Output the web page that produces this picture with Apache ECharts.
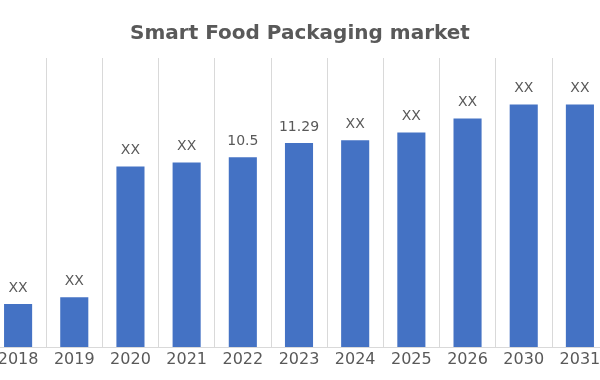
<!DOCTYPE html>
<html><head><meta charset="utf-8">
<script src="https://cdn.jsdelivr.net/npm/echarts@6/dist/echarts.min.js"></script>
<style>html,body{margin:0;padding:0;background:#fff}#c{width:600px;height:380px}</style>
</head><body><div id="c"></div>
<script>
const title = 'Smart Food Packaging market';
const years = ['2018','2019','2020','2021','2022','2023','2024','2025','2026','2030','2031'];
const values = [2.38, 2.76, 10.0, 10.22, 10.5, 11.29, 11.45, 11.88, 12.65, 13.43, 13.43];
const labels = ['XX','XX','XX','XX','10.5','11.29','XX','XX','XX','XX','XX'];

const chart = echarts.init(document.getElementById('c'), null, {renderer:'canvas'});
chart.setOption({
  animation:false,
  backgroundColor:'#ffffff',
  title:{text:title,left:'center',top:19,
    textStyle:{fontFamily:'DejaVu Sans',fontWeight:'bold',fontSize:20,color:'#595959'}},
  grid:{left:-10,right:-8,top:58,bottom:33,containLabel:false,outerBoundsMode:'none'},
  xAxis:{type:'category',data:years,
    axisLine:{show:true,lineStyle:{color:'#d9d9d9',width:1}},
    axisTick:{show:false},
    splitLine:{show:true,lineStyle:{color:'#d9d9d9',width:1}},
    axisLabel:{fontFamily:'DejaVu Sans',fontSize:16,color:'#595959',margin:5,interval:0,hideOverlap:false}},
  yAxis:{type:'value',min:0,max:16,show:false,splitLine:{show:false}},
  series:[{type:'bar',data:values,barWidth:'50%',
    itemStyle:{color:'#4472C4'},
    label:{show:true,position:'top',distance:9,fontFamily:'DejaVu Sans',fontSize:14,color:'#595959',
      formatter:p=>labels[p.dataIndex]}}]
});
</script></body></html>
